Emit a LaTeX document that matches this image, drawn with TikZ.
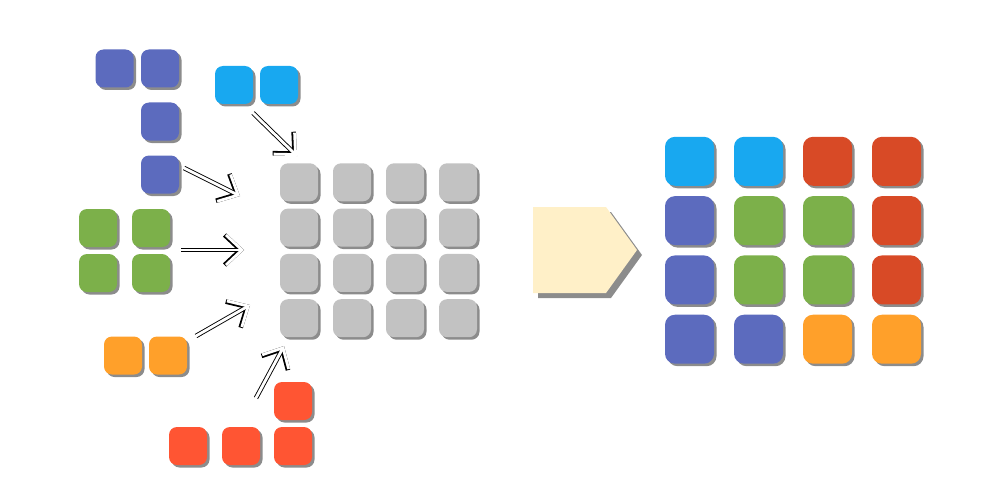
\documentclass[tikz,border=0pt]{standalone}
\usetikzlibrary{shadows,arrows.meta}
\definecolor{tileblue}{HTML}{5C6BBE}
\definecolor{tilecyan}{HTML}{18A8F0}
\definecolor{tilegreen}{HTML}{7CB04A}
\definecolor{tileorange}{HTML}{FFA02A}
\definecolor{tilered}{HTML}{FF5533}
\definecolor{tiledarkred}{HTML}{D84A26}
\definecolor{tilegray}{HTML}{C2C2C2}
\definecolor{cream}{HTML}{FFF0C8}
\begin{document}
\begin{tikzpicture}[x=1pt,y=-1pt,
  tile/.style={rectangle, rounded corners=8pt, minimum size=38pt, inner sep=0pt,
    drop shadow={shadow xshift=2.5pt, shadow yshift=-2.5pt, fill=black, opacity=0.45}},
  bigtile/.style={tile, rounded corners=10pt, minimum size=49pt},
  hollow/.style={white, line width=2.8pt, line cap=round, line join=round,
    -{Straight Barb[length=16pt,width=30pt]},
    preaction={draw=black, line width=4.6pt}}]
\useasboundingbox (0,0) rectangle (1000,500);
% loose pieces
\node[tile, fill=tileblue] (b1) at (114.5,68.5) {};
\node[tile, fill=tileblue] (b2) at (160,68.5) {};
\node[tile, fill=tileblue] (b3) at (160,121.5) {};
\node[tile, fill=tileblue] (b4) at (160,174.5) {};
\node[tile, fill=tilecyan] (c1) at (234,85) {};
\node[tile, fill=tilecyan] (c2) at (279,85) {};
\node[tile, fill=tilegreen] (gr1) at (98,228) {};
\node[tile, fill=tilegreen] (gr2) at (151,228) {};
\node[tile, fill=tilegreen] (gr3) at (98,273) {};
\node[tile, fill=tilegreen] (gr4) at (151,273) {};
\node[tile, fill=tileorange] (o1) at (123,355.5) {};
\node[tile, fill=tileorange] (o2) at (168,355.5) {};
\node[tile, fill=tilered] (rd1) at (293,401) {};
\node[tile, fill=tilered] (rd2) at (188,446) {};
\node[tile, fill=tilered] (rd3) at (241,446) {};
\node[tile, fill=tilered] (rd4) at (293,446) {};
% empty board
\foreach \r in {1,...,4}
  \foreach \k in {1,...,4}
    \node[tile, fill=tilegray] (g\r\k) at ({246+53*\k},{137+45.3*\r}) {};
% arrows into the board
\coordinate (c1s) at (253,113);
\coordinate (c1e) at (297,156);
\coordinate (b4s) at (184,168);
\coordinate (b4e) at (240,196);
\coordinate (grs) at (181,250);
\coordinate (gre) at (244,250);
\coordinate (os) at (196,336);
\coordinate (oe) at (250,305);
\coordinate (rds) at (256,398);
\coordinate (rde) at (284,346);
\draw[hollow] (c1s) -- (c1e);
\draw[hollow] (b4s) -- (b4e);
\draw[hollow] (grs) -- (gre);
\draw[hollow] (os) -- (oe);
\draw[hollow] (rds) -- (rde);
% big arrow
\path[fill=cream, drop shadow={shadow xshift=5pt, shadow yshift=-5pt, fill=black, opacity=0.45}]
  (533,207) -- (606,207) -- (637,250) -- (606,293) -- (533,293) -- cycle;
% filled board
\foreach \cc [count=\r] in {{tilecyan,tilecyan,tiledarkred,tiledarkred},
    {tileblue,tilegreen,tilegreen,tiledarkred},
    {tileblue,tilegreen,tilegreen,tiledarkred},
    {tileblue,tileblue,tileorange,tileorange}}
  \foreach \c [count=\k] in \cc
    \node[bigtile, fill=\c] (f\r\k) at ({620.5+69*\k},{102+59.3*\r}) {};
\end{tikzpicture}
\end{document}
